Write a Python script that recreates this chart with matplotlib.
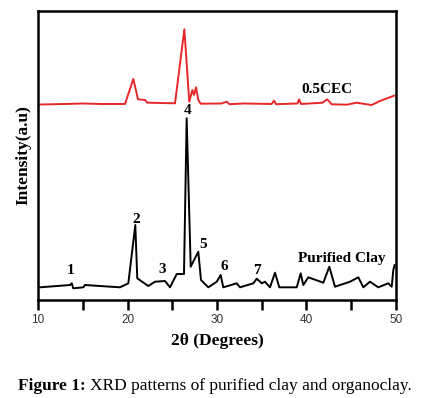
import numpy as np
import matplotlib.pyplot as plt

# purified clay (black) - 2theta, intensity (a.u.)
clay_2t = [10.22, 13.58, 13.77, 13.94, 15.06, 15.25, 19.16, 20.09, 20.87, 21.09,
           22.32, 23.07, 24.19, 24.75, 25.50, 26.31, 26.61, 27.06, 27.91, 28.21,
           29.03, 29.97, 30.41, 30.70, 32.20, 32.57, 34.06, 34.44, 35.00, 35.36,
           35.92, 36.48, 36.96, 38.91, 39.35, 39.64, 40.20, 41.88, 42.55, 43.18,
           44.86, 45.79, 46.35, 47.09, 48.02, 49.14, 49.52, 49.70, 49.85]
clay_I = [12.7, 15.0, 16.7, 11.7, 12.7, 15.0, 12.7, 16.7, 75.0, 21.7,
          14.0, 18.3, 19.0, 12.7, 26.0, 26.0, 181.7, 33.3, 48.3, 20.0,
          12.7, 18.3, 25.0, 12.7, 16.7, 12.7, 16.7, 21.3, 16.7, 18.3,
          12.7, 27.3, 12.7, 12.7, 26.7, 15.0, 22.7, 17.3, 33.3, 13.3,
          18.3, 22.7, 12.7, 18.3, 12.7, 16.7, 13.3, 30.0, 35.0]

# 0.5CEC organoclay (red)
cec_2t = [10.22, 13.0, 15.0, 17.0, 19.72, 20.65, 21.17, 21.96, 22.2, 25.31,
          26.35, 26.9, 27.24, 27.43, 27.65, 27.91, 28.18, 30.5, 31.08, 31.4,
          33.0, 36.1, 36.37, 36.6, 39.0, 39.16, 39.4, 41.8, 42.32, 42.8,
          44.5, 45.6, 46.3, 47.28, 48.21, 49.78]
cec_I = [195.5, 196.0, 196.5, 196.0, 196.0, 221.0, 200.7, 200.0, 197.3, 196.7,
         270.7, 198.3, 210.0, 205.0, 212.7, 200.0, 196.3, 196.5, 198.3, 195.8,
         196.5, 196.0, 199.3, 195.8, 196.5, 200.7, 196.0, 197.3, 200.7, 195.7,
         195.3, 197.3, 196.3, 195.0, 199.0, 204.3]

peak_labels = ['1', '2', '3', '4', '5', '6', '7']
peak_x = [13.65, 20.95, 23.93, 26.76, 28.47, 30.78, 34.44]
peak_y = [29.3, 80.7, 30.7, 189.0, 55.7, 33.3, 30.0]

serif = 'Liberation Serif'

fig = plt.figure(figsize=(4.21, 3.98), dpi=100)
ax = fig.add_axes([0.0903, 0.2462, 0.8503, 0.7262])

ax.plot(clay_2t, clay_I, color='black', lw=1.4)
ax.plot(cec_2t, cec_I, color='#e6282b', lw=1.4)

for lab, x, y in zip(peak_labels, peak_x, peak_y):
    ax.text(x, y, lab, ha='center', va='center', family=serif,
            fontweight='bold', fontsize=11)
ax.text(43.93, 41.7, 'Purified Clay', ha='center', va='center', family=serif,
        fontweight='bold', fontsize=11)
ax.text(42.26, 210, '0.5CEC', ha='center', va='center', family=serif,
        fontweight='bold', fontsize=11)

ax.set_xlim(10, 50)
ax.set_ylim(0, 289)
ax.set_xticks(np.arange(10, 51, 5))
ax.set_xticklabels(['10', '', '20', '', '30', '', '40', '', '50'],
                   family='Liberation Sans', fontsize=8.5, color='#333333')
ax.set_yticks([])
ax.tick_params(axis='x', direction='out', length=7, width=1.8, pad=3)
for s in ax.spines.values():
    s.set_linewidth(1.8)

ax.set_xlabel('2θ (Degrees)', family=serif, fontweight='bold', fontsize=12.5, labelpad=5)
ax.set_ylabel('Intensity(a.u)', family=serif, fontweight='bold', fontsize=12.5, labelpad=5)

# caption with bold prefix
fig.canvas.draw()
r = fig.canvas.get_renderer()
t1 = fig.text(0.043, 0.02, 'Figure 1:', family=serif, fontweight='bold',
              fontsize=12.5, va='baseline')
bb = t1.get_window_extent(renderer=r)
fig.text(bb.x1 / fig.bbox.width + 0.009, 0.02,
         'XRD patterns of purified clay and organoclay.', family=serif,
         fontsize=12.5, va='baseline')

fig.savefig('out.png', dpi=100)
